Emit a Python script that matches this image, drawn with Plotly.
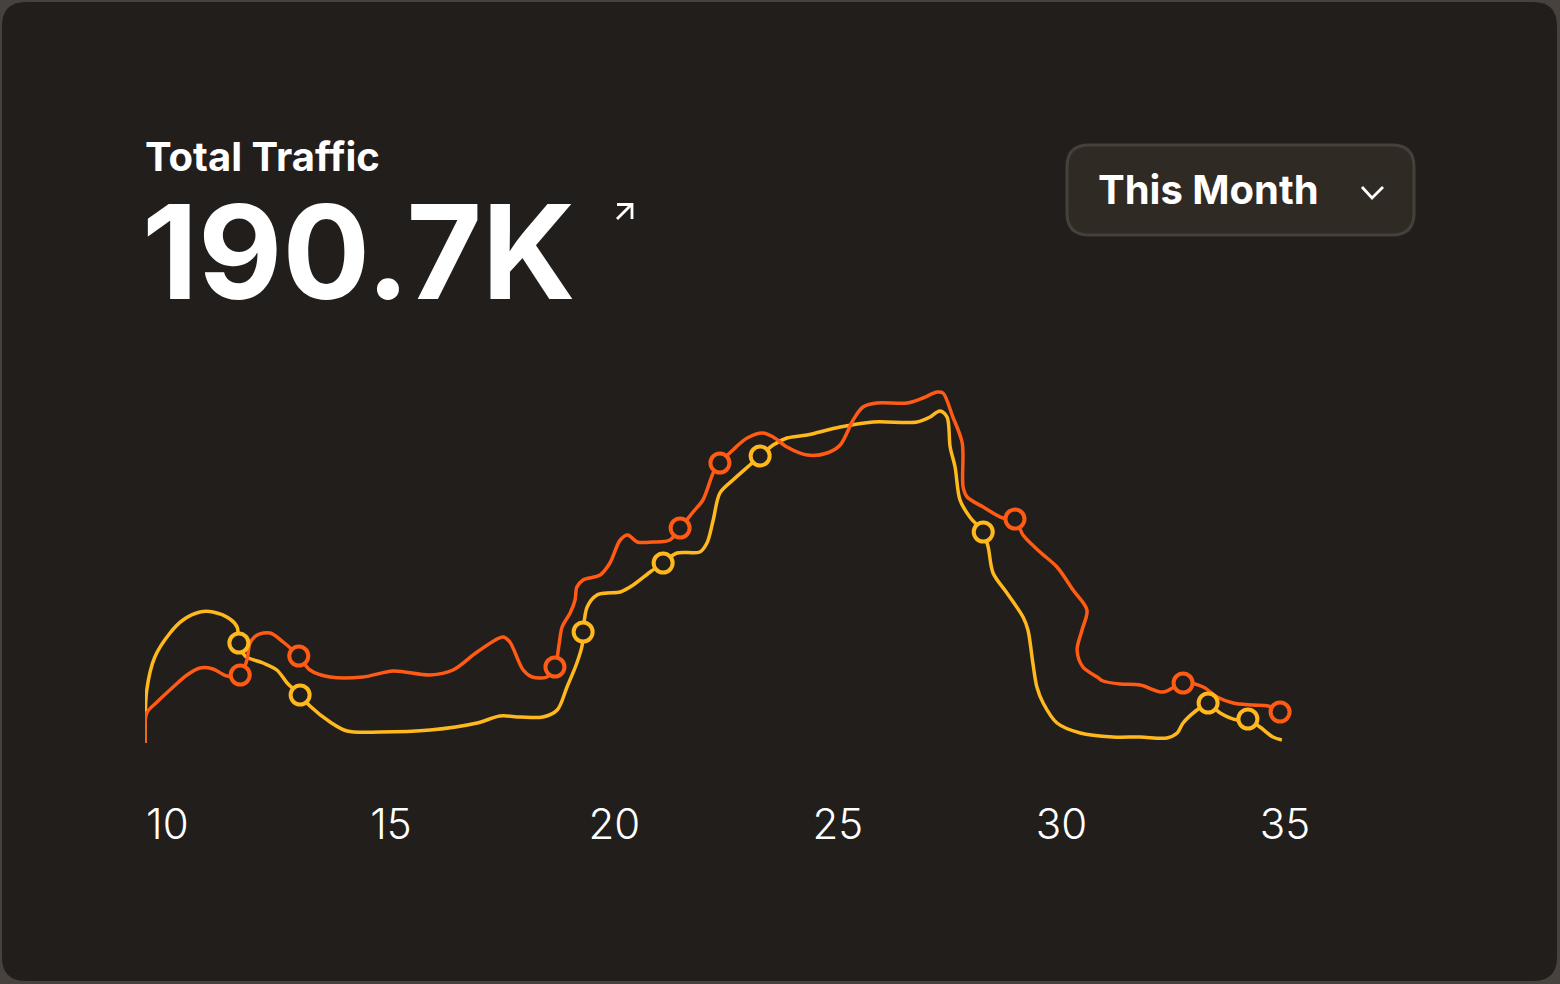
import plotly.graph_objects as go

# ---------------- data ----------------
tick_vals = [10, 15, 20, 25, 30, 35]
tick_text = ["10", "15", "20", "25", "30", "35"]

orange_x = [9.50, 9.54, 9.77, 10.13, 10.44, 10.73, 11.02, 11.33, 11.63, 11.78,
            11.85, 12.01, 12.30, 12.59, 12.94, 13.19, 13.64, 14.38, 15.05, 15.88,
            16.39, 16.93, 17.51, 17.66, 17.96, 18.16, 18.49, 18.67, 18.76, 18.83,
            19.01, 19.12, 19.16, 19.30, 19.68, 19.90, 20.13, 20.30, 20.51, 20.86,
            21.24, 21.47, 21.76, 21.98, 22.21, 22.36, 22.65, 22.97, 23.32, 23.55,
            23.86, 24.31, 24.76, 25.05, 25.34, 25.56, 25.87, 26.55, 26.90, 27.22,
            27.35, 27.57, 27.78, 27.80, 27.89, 28.25, 28.69, 28.96, 29.14, 29.52,
            29.90, 30.26, 30.57, 30.46, 30.35, 30.48, 30.80, 30.93, 31.31, 31.76,
            32.27, 32.72, 33.17, 33.48, 33.84, 34.28, 34.62, 34.89]
orange_y = [1.7, 4.7, 5.8, 7.3, 8.5, 9.2, 9.1, 8.4, 8.5, 10.0,
            11.7, 12.5, 12.7, 11.8, 10.4, 9.0, 8.3, 8.3, 8.9, 8.5,
            9.0, 10.8, 12.3, 11.8, 9.0, 8.3, 8.3, 9.3, 11.5, 13.3,
            14.7, 16.0, 17.3, 18.0, 18.5, 19.7, 22.0, 22.5, 21.8, 21.8,
            22.0, 23.2, 24.8, 26.0, 28.7, 29.7, 31.0, 32.2, 32.7, 32.3,
            31.3, 30.5, 30.7, 31.5, 34.0, 35.3, 35.7, 35.7, 36.2, 36.8,
            36.7, 34.3, 31.7, 27.3, 26.3, 25.3, 24.2, 24.1, 22.5, 20.8,
            19.3, 17.0, 15.0, 13.0, 11.0, 9.3, 8.3, 7.9, 7.6, 7.5,
            6.8, 7.7, 7.3, 6.3, 5.7, 5.5, 5.4, 4.8]
orange_marker_idx = [8, 14, 27, 41, 45, 67, 81, 87]

yellow_x = [9.50, 9.54, 9.72, 10.06, 10.35, 10.73, 11.02, 11.40, 11.56, 11.60,
            11.74, 12.14, 12.45, 12.68, 12.97, 13.19, 13.64, 14.02, 14.76, 15.88,
            16.93, 17.44, 17.89, 18.40, 18.72, 18.94, 19.16, 19.28, 19.30, 19.39,
            19.61, 19.83, 20.13, 20.42, 20.80, 21.09, 21.40, 21.91, 22.07, 22.21,
            22.36, 22.65, 23.03, 23.26, 23.55, 23.86, 24.31, 25.05, 25.79, 26.77,
            27.06, 27.28, 27.44, 27.51, 27.62, 27.73, 27.95, 28.25, 28.36, 28.47,
            28.78, 29.14, 29.25, 29.36, 29.45, 29.59, 29.90, 30.42, 31.15, 31.76,
            32.36, 32.59, 32.72, 33.03, 33.28, 33.55, 33.93, 34.17, 34.44, 34.73,
            34.93]
yellow_y = [1.7, 7.0, 10.3, 12.7, 14.0, 14.8, 14.8, 14.1, 13.3, 11.7,
            10.4, 9.7, 9.0, 7.7, 6.5, 5.4, 3.8, 2.9, 2.8, 3.0,
            3.7, 4.4, 4.3, 4.3, 5.0, 7.3, 9.7, 11.5, 12.8, 15.3,
            16.5, 16.7, 16.8, 17.5, 18.8, 19.7, 20.7, 20.8, 21.7, 24.0,
            26.7, 28.0, 29.5, 30.4, 31.5, 32.2, 32.5, 33.3, 33.8, 33.8,
            34.3, 34.9, 34.3, 31.3, 29.3, 26.0, 24.3, 22.8, 21.3, 18.7,
            16.7, 14.3, 13.0, 9.7, 7.3, 5.7, 3.7, 2.7, 2.3, 2.3,
            2.2, 2.7, 3.7, 5.0, 5.7, 4.7, 4.0, 4.1, 3.3, 2.3,
            2.0]
yellow_marker_idx = [9, 14, 28, 35, 43, 57, 74, 77]

title_text = "Total Traffic"
value_text = "190.7K"
period_text = "This Month"

# ---------------- style ----------------
W, H = 1560, 984
BG = "#221e1b"
PAGE = "#47423d"
ORANGE = "#ff5b14"
YELLOW = "#ffb81e"
FONT = "Inter"


def px(x):
    return x / W


def py(y):
    return 1 - y / H


def rounded_rect(x0, y0, x1, y1, r):
    pts = [
        f"M {px(x0 + r)} {py(y0)}",
        f"L {px(x1 - r)} {py(y0)}",
        f"Q {px(x1)} {py(y0)} {px(x1)} {py(y0 + r)}",
        f"L {px(x1)} {py(y1 - r)}",
        f"Q {px(x1)} {py(y1)} {px(x1 - r)} {py(y1)}",
        f"L {px(x0 + r)} {py(y1)}",
        f"Q {px(x0)} {py(y1)} {px(x0)} {py(y1 - r)}",
        f"L {px(x0)} {py(y0 + r)}",
        f"Q {px(x0)} {py(y0)} {px(x0 + r)} {py(y0)}",
        "Z",
    ]
    return " ".join(pts)


fig = go.Figure()

series = [
    (yellow_x, yellow_y, yellow_marker_idx, YELLOW),
    (orange_x, orange_y, orange_marker_idx, ORANGE),
]

for xs, ys, idx, col in series:
    fig.add_trace(go.Scatter(
        x=xs, y=ys, mode="lines",
        line=dict(color=col, width=3.5, shape="spline", smoothing=0.9),
        hoverinfo="skip", showlegend=False, cliponaxis=False,
    ))

for xs, ys, idx, col in series:
    fig.add_trace(go.Scatter(
        x=[xs[i] for i in idx], y=[ys[i] for i in idx], mode="markers",
        marker=dict(symbol="circle", size=19, color=BG,
                    line=dict(color=col, width=4)),
        hoverinfo="skip", showlegend=False, cliponaxis=False,
    ))

shapes = [
    dict(type="path", xref="paper", yref="paper",
         path=rounded_rect(2, 2, 1557, 981, 24),
         fillcolor=BG, line=dict(width=0), layer="below"),
    dict(type="path", xref="paper", yref="paper",
         path=rounded_rect(1067, 145, 1414, 235, 22),
         fillcolor="#302a25", line=dict(color="#46403b", width=3), layer="below"),
    dict(type="path", xref="paper", yref="paper",
         path=f"M {px(1362)} {py(187)} L {px(1372)} {py(198)} L {px(1383)} {py(187)}",
         line=dict(color="white", width=2.8)),
    dict(type="path", xref="paper", yref="paper",
         path=f"M {px(617)} {py(219)} L {px(631)} {py(205)}",
         line=dict(color="white", width=2.8)),
    dict(type="path", xref="paper", yref="paper",
         path=f"M {px(617)} {py(204.5)} L {px(632)} {py(204.5)} L {px(632)} {py(219)}",
         line=dict(color="white", width=2.8)),
]

annotations = [
    dict(text=title_text, x=px(143), y=py(156), xref="paper", yref="paper",
         xanchor="left", yanchor="middle", showarrow=False,
         font=dict(family=FONT, size=40, color="white", weight=700)),
    dict(text=value_text, x=px(140), y=py(251), xref="paper", yref="paper",
         xanchor="left", yanchor="middle", showarrow=False,
         font=dict(family=FONT, size=130, color="white", weight=700)),
    dict(text=period_text, x=px(1096), y=py(189), xref="paper", yref="paper",
         xanchor="left", yanchor="middle", showarrow=False,
         font=dict(family=FONT, size=40, color="white", weight=700)),
]

fig.update_layout(
    width=W, height=H, autosize=False,
    margin=dict(l=0, r=0, t=0, b=0, pad=0, autoexpand=False),
    paper_bgcolor=PAGE, plot_bgcolor="rgba(0,0,0,0)",
    shapes=shapes, annotations=annotations,
    xaxis=dict(domain=[px(145), px(1285)], range=[9.5, 35.0],
               tickvals=tick_vals, ticktext=tick_text, automargin=False,
               showgrid=False, zeroline=False, showline=False, ticks="",
               ticklabelstandoff=36,
               tickfont=dict(family="Inter", size=42, color="white", weight=300),
               fixedrange=True),
    yaxis=dict(domain=[py(760), py(380)], range=[0, 38], automargin=False,
               showgrid=False, zeroline=False, showline=False,
               showticklabels=False, ticks="", fixedrange=True),
)

fig.write_html(
    "out.html",
    config={"displayModeBar": False},
    post_script="document.body.style.margin='0';document.body.style.overflow='hidden';",
)
